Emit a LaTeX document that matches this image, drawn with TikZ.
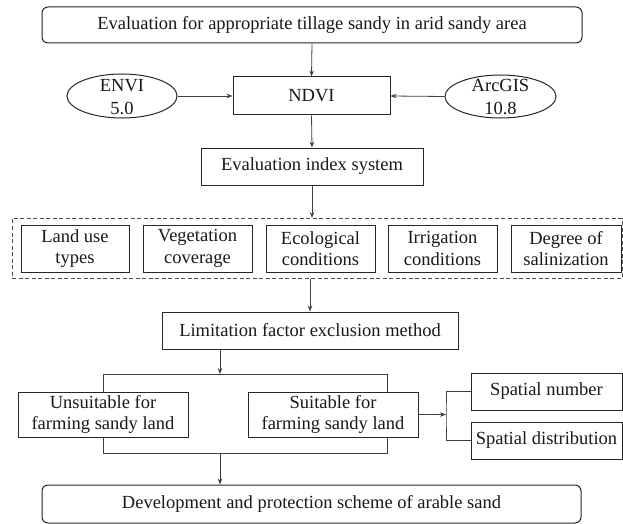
\documentclass[tikz,border=0pt]{standalone}
\usepackage{fontspec}
\setmainfont{Liberation Serif}
\usetikzlibrary{arrows.meta,shapes.geometric}
\newcommand\myfs{\fontsize{18.5}{21.5}\selectfont}
\begin{document}
\begin{tikzpicture}[x=1pt,y=-1pt,
  box/.style={draw=black!85,line width=1pt,rectangle,inner sep=0pt,align=center,font=\myfs,text=black!90},
  rbox/.style={box,rounded corners=6pt},
  ell/.style={draw=black!85,line width=1pt,ellipse,inner sep=0pt},
  etext/.style={align=center,inner sep=0pt,font=\fontsize{18.5}{22.5}\selectfont,text=black!90},
  grpbox/.style={draw=black!70,line width=1pt,dash pattern=on 4pt off 2.5pt,rectangle,inner sep=0pt},
  conn/.style={draw=black!75,line width=0.8pt,-{Stealth[length=6pt,width=4.5pt]}},
  plain/.style={draw=black!75,line width=0.8pt}]
\useasboundingbox (0,0) rectangle (623,524);
\fill[white] (0,0) rectangle (623,524);
% nodes
\node[rbox,minimum width=540,minimum height=36] (top) at (312,25) {Evaluation for appropriate tillage sandy in arid sandy area};
\node[box,minimum width=157,minimum height=38] (ndvi) at (311.5,96) {NDVI};
\node[ell,minimum width=110,minimum height=44] (envi) at (122,96) {};
\node[etext] (envitext) at (122,97) {ENVI\\5.0};
\node[ell,minimum width=111,minimum height=43] (arcgis) at (500.5,96.5) {};
\node[etext] (arcgistext) at (500.5,97) {ArcGIS\\10.8};
\node[box,minimum width=222,minimum height=37] (eval) at (312,166.5) {Evaluation index system};
\node[grpbox,minimum width=610,minimum height=59.5] (grp) at (317,248.25) {};
\node[box,minimum width=108,minimum height=47] (f1) at (75,248.5) {Land use\\types};
\node[box,minimum width=109,minimum height=47] (f2) at (197.5,248.5) {Vegetation\\coverage};
\node[box,minimum width=109,minimum height=47] (f3) at (320.5,248.5) {Ecological\\conditions};
\node[box,minimum width=109,minimum height=47] (f4) at (442.5,248.5) {Irrigation\\conditions};
\node[box,minimum width=110,minimum height=47] (f5) at (566,248.5) {Degree of\\salinization};
\node[box,minimum width=296,minimum height=37] (lim) at (310,330.5) {Limitation factor exclusion method};
\node[box,minimum width=170,minimum height=45] (unsuit) at (103,414.5) {Unsuitable for\\farming sandy land};
\node[box,minimum width=170,minimum height=45] (suit) at (333,414.5) {Suitable for\\farming sandy land};
\node[box,minimum width=151,minimum height=37] (spnum) at (546.5,391.5) {Spatial number};
\node[box,minimum width=151,minimum height=37] (spdist) at (546.5,440.5) {Spatial distribution};
\node[rbox,minimum width=539,minimum height=38] (bot) at (311.5,504) {Development and protection scheme of arable sand};
% helper coordinates
\coordinate (split) at (220,374);
\coordinate (br) at (387,374);
\coordinate (br2) at (387,453);
\coordinate (join) at (220,453);
\coordinate (fork) at (446,414.5);
% connectors
\draw[conn] (top.south) -- (ndvi.north);
\draw[conn] (envi.east) -- (ndvi.west);
\draw[conn] (arcgis.west) -- (ndvi.east);
\draw[conn] (ndvi.south) -- (eval.north);
\draw[conn] (eval.south) -- (eval.south |- grp.north);
\draw[conn] (grp.south -| lim.north) -- (lim.north);
\draw[conn] (lim.south -| split) -- (split);
\draw[plain] (unsuit.north) |- (br) -- (br |- suit.north);
\draw[plain] (unsuit.south) |- (br2) -- (br2 |- suit.south);
\draw[conn] (join) -- (join |- bot.north);
\draw[conn] (suit.east) -- (fork);
\draw[plain] (spnum.west) -| (fork) |- (spdist.west);
\end{tikzpicture}
\end{document}
